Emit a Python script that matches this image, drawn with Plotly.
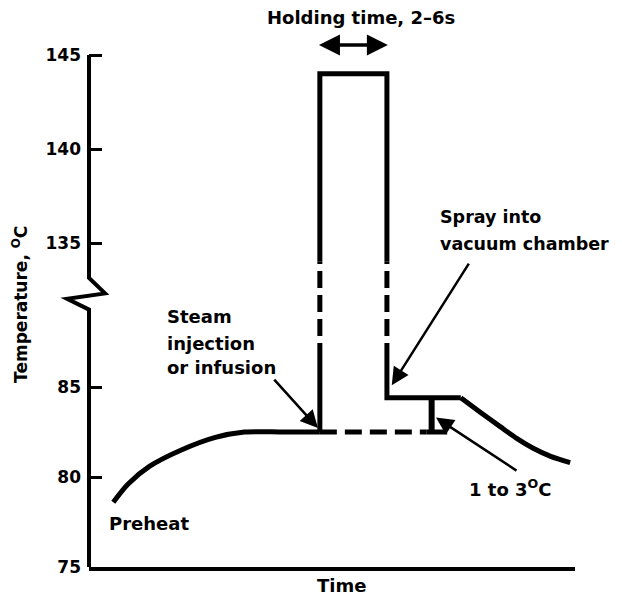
import plotly.graph_objects as go

# ---- data (time in arbitrary units, temperature in deg C) ----
preheat_time = [5, 8, 12.5, 19, 26, 32, 40, 47.5]
preheat_temp = [78.6, 79.6, 80.6, 81.5, 82.2, 82.5, 82.5, 82.5]

inject_time = [47.5, 47.5]
inject_temp = [82.5, 86.5]

hold_time = [47.5, 47.5, 61.3, 61.3]
hold_temp = [134, 144, 144, 134]

gap_left_time = [47.5, 47.5]
gap_right_time = [61.3, 61.3]
gap_temp = [86.5, 134]

flash_time = [61.3, 61.3, 76.5]
flash_temp = [86.5, 84.4, 84.4]

cool_time = [76.5, 80.5, 84.6, 88, 91.4, 95, 99]
cool_temp = [84.4, 83.6, 82.8, 82.15, 81.6, 81.15, 80.8]

base_time = [47.5, 69.5]
base_temp = [82.5, 82.5]

drop_time = [70.5, 70.5]
drop_temp = [84.4, 82.5]
foot_time = [69.5, 73.7]
foot_temp = [82.5, 82.5]

tick_temps = [75, 80, 85, 135, 140, 145]


# broken axis: upper part (135-145) is shifted down next to the lower part
def ty(v):
    if v > 100:
        return 93 + (v - 135) * 1.044
    return v


def tys(vals):
    return [ty(v) for v in vals]


FONT = "DejaVu Sans"
Y0, Y1 = 75, 104
LINE = dict(color="black", width=5)
DASH = dict(color="black", width=5, dash="17px,7px")
TFONT = dict(family=FONT, size=18, color="black", weight="bold")

fig = go.Figure()

fig.add_trace(go.Scatter(x=preheat_time, y=tys(preheat_temp), mode="lines",
                         line=dict(color="black", width=5, shape="spline", smoothing=0.8)))
fig.add_trace(go.Scatter(x=inject_time, y=tys(inject_temp), mode="lines", line=LINE))
fig.add_trace(go.Scatter(x=hold_time, y=tys(hold_temp), mode="lines", line=LINE))
fig.add_trace(go.Scatter(x=gap_left_time, y=tys(gap_temp), mode="lines", line=DASH))
fig.add_trace(go.Scatter(x=gap_right_time, y=tys(gap_temp), mode="lines", line=DASH))
fig.add_trace(go.Scatter(x=flash_time, y=tys(flash_temp), mode="lines", line=LINE))
fig.add_trace(go.Scatter(x=cool_time, y=tys(cool_temp), mode="lines",
                         line=dict(color="black", width=5, shape="spline", smoothing=0.8)))
fig.add_trace(go.Scatter(x=base_time, y=tys(base_temp), mode="lines",
                         line=dict(color="black", width=5, dash="17px,8px")))
fig.add_trace(go.Scatter(x=drop_time, y=tys(drop_temp), mode="lines",
                         line=dict(color="black", width=6)))
fig.add_trace(go.Scatter(x=foot_time, y=tys(foot_temp), mode="lines", line=LINE))

# y axis line with the break zigzag (paper x, data y)
axis_path = ("M 0 {a} L 0 {b} L 0.033 {c} L -0.045 {d} L 0 {e} L 0 {f}"
             .format(a=ty(145), b=91.06, c=90.2, d=89.9, e=89.3, f=Y0))
fig.add_shape(type="path", path=axis_path, xref="paper", yref="y",
              line=dict(color="black", width=4))

arrow = dict(showarrow=True, arrowhead=2, arrowsize=1.4, arrowwidth=2.5,
             arrowcolor="black", text="", standoff=0, axref="pixel", ayref="pixel")
annotations = [
    dict(x=47.1, y=82.72, ax=-45, ay=-50, **arrow),
    dict(x=62.3, y=85.1, ax=78, ay=-123, **arrow),
    dict(x=71.4, y=83.3, ax=82, ay=54, **arrow),
    dict(x=61.5, y=104, ax=47, ay=104, axref="x", ayref="y", showarrow=True,
         arrowhead=2, arrowside="end+start", arrowsize=1.2, arrowwidth=3.5,
         arrowcolor="black", text="", standoff=0),
]
texts = [
    ("Steam", 15.6, 88.89, 18),
    ("injection", 15.6, 87.44, 18),
    ("or infusion", 15.6, 86.06, 18),
    ("Spray into", 71.8, 94.44, 17.5),
    ("vacuum chamber", 71.8, 92.94, 17.5),
    ("1 to 3<sup>O</sup>C", 77.8, 79.39, 18),
    ("Preheat", 3.7, 77.44, 18),
]
for t, x, y, s in texts:
    annotations.append(dict(text=t, x=x, y=y, xanchor="left", yanchor="middle",
                            showarrow=False, font=dict(TFONT, size=s)))
annotations += [
    dict(text="Holding time, 2–6s", x=0.56, y=1.052, xref="paper", yref="paper",
         xanchor="center", yanchor="middle", showarrow=False, font=TFONT),
    dict(text="Time", x=0.52, y=-0.0345, xref="paper", yref="paper",
         xanchor="center", yanchor="middle", showarrow=False, font=TFONT),
    dict(text="Temperature, <sup>O</sup>C", x=-0.142, y=0.504, xref="paper", yref="paper",
         xanchor="center", yanchor="middle", textangle=-90, showarrow=False,
         font=dict(family=FONT, size=17, color="black", weight="bold")),
]

fig.update_layout(
    width=622, height=600,
    margin=dict(l=81, r=55, t=37, b=41),
    plot_bgcolor="white", paper_bgcolor="white",
    showlegend=False,
    annotations=annotations,
    font=dict(family=FONT, size=17, color="black", weight="bold"),
    xaxis=dict(range=[0, 100], showgrid=False, zeroline=False, showticklabels=False,
               ticks="", showline=True, linewidth=4, linecolor="black"),
    yaxis=dict(range=[Y0, Y1], showgrid=False, zeroline=False, showline=False,
               tickvals=tys(tick_temps), ticktext=[str(v) for v in tick_temps],
               ticks="inside", ticklen=13, tickwidth=3, tickcolor="black",
               ticklabelstandoff=7),
)

fig.write_html("out.html")
